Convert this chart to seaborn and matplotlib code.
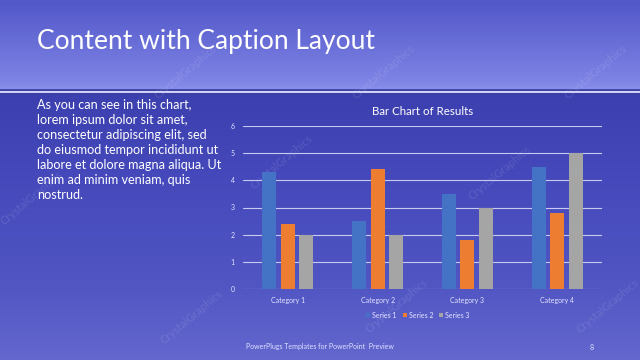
import matplotlib
matplotlib.use("Agg")
import matplotlib.pyplot as plt
import seaborn as sns
import numpy as np
import pandas as pd
from matplotlib.colors import LinearSegmentedColormap

# dữ liệu biểu đồ
categories = ["Category 1", "Category 2", "Category 3", "Category 4"]
series_names = ["Series 1", "Series 2", "Series 3"]
series_1 = [4.3, 2.5, 3.5, 4.5]
series_2 = [2.4, 4.4, 1.8, 2.8]
series_3 = [2.0, 2.0, 3.0, 5.0]
y_ticks = [0, 1, 2, 3, 4, 5, 6]
colors = ["#4472c4", "#ed7d31", "#a5a5a5"]

title = "Content with Caption Layout"
caption = ("As you can see in this chart,\nlorem ipsum dolor sit amet,\n"
           "consectetur adipiscing elit, sed\ndo eiusmod tempor incididunt ut\n"
           "labore et dolore magna aliqua. Ut\nenim ad minim veniam, quis\nnostrud.")
footer = "PowerPlugs Templates for PowerPoint  Preview"
page_no = "8"

df = pd.DataFrame({
    "category": categories * 3,
    "series": [s for s in series_names for _ in categories],
    "value": series_1 + series_2 + series_3,
})

sns.set_theme(style="white")
plt.rcParams["font.family"] = ["Lato", "DejaVu Sans"]

fig = plt.figure(figsize=(6.4, 3.6), dpi=100)

# nền slide
bg = fig.add_axes([0, 0, 1, 1])
bg.set_axis_off()
grad_cmap = LinearSegmentedColormap.from_list("slide", [
    (0.0, "#5257c9"), (0.22, "#7d83e4"), (0.245, "#888eea"),
    (0.255, "#3c3fae"), (0.5, "#4549bb"), (0.8, "#5156c3"), (1.0, "#6367ce")])
grad = np.linspace(0, 1, 360).reshape(-1, 1)
bg.imshow(grad, aspect="auto", cmap=grad_cmap, extent=[0, 1, 0, 1], origin="upper")
bg.set_xlim(0, 1)
bg.set_ylim(0, 1)
bg.axhline(1 - 90 / 360, color="#3a3ea0", lw=1.2)
bg.axhline(1 - 92 / 360, color="#e8eaff", lw=1.2)
bg.axhline(1 - 94 / 360, color="#3a3ea0", lw=0.8)

# watermark
for wx, wy in [(0.29, 0.80), (0.60, 0.80), (0.93, 0.80), (0.05, 0.45),
               (0.44, 0.55), (0.78, 0.52), (0.30, 0.12), (0.62, 0.15), (0.95, 0.15)]:
    bg.text(wx, wy, "CrystalGraphics", rotation=40, color="white", alpha=0.12,
            fontsize=8, ha="center", va="center")

fig.text(37 / 640, 1 - 42 / 360, title, color="white", fontsize=19, va="center")
fig.text(37 / 640, 1 - 99 / 360, caption, color="white", fontsize=9.1,
         va="top", linespacing=1.3)
fig.text(320 / 640, 1 - 347 / 360, footer, color="#e0e2ff", fontsize=5, ha="center", va="center")
fig.text(592 / 640, 1 - 347 / 360, page_no, color="#e0e2ff", fontsize=5, ha="center", va="center")

# biểu đồ cột
ax = fig.add_axes([243 / 640, 1 - 289 / 360, 359 / 640, 163 / 360])
ax.patch.set_alpha(0)
sns.barplot(data=df, x="category", y="value", hue="series", palette=colors,
            width=0.62, gap=0.25, ax=ax, legend=False, saturation=1, linewidth=0)
ax.set_ylim(0, 6)
ax.set_xlim(-0.5, 3.5)
ax.set_yticks(y_ticks)
ax.yaxis.grid(True, color="#c8cbef", lw=0.8)
ax.set_axisbelow(True)
for s in ax.spines.values():
    s.set_visible(False)
ax.set_xlabel("")
ax.set_ylabel("")
ax.tick_params(axis="both", length=0, labelsize=5, colors="#e4e6ff", pad=6)
ax.set_title("Bar Chart of Results", color="white", fontsize=8.3, pad=8)

handles = [plt.Rectangle((0, 0), 1, 1, color=c, lw=0) for c in colors]
fig.legend(handles, series_names, loc="center", bbox_to_anchor=(418 / 640, 1 - 315 / 360),
           ncol=3, frameon=False, fontsize=5, labelcolor="#e4e6ff",
           handlelength=0.55, handleheight=0.55, handletextpad=0.3, columnspacing=0.9)

fig.savefig("out.png", dpi=100)
